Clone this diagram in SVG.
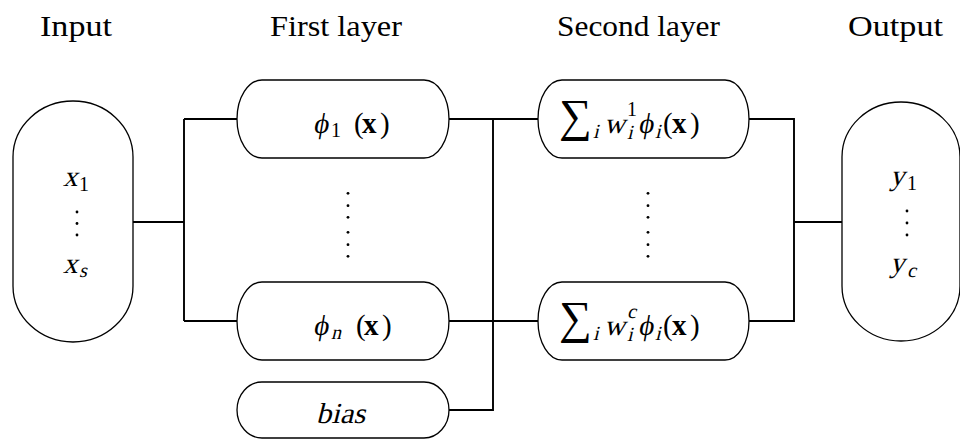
<svg xmlns="http://www.w3.org/2000/svg" width="960" height="440" viewBox="0 0 960 440">
<style>
.node{fill:#fff;stroke:#000;stroke-width:1.3}
.wire{fill:none;stroke:#000;stroke-width:1.9}
text{font-family:"Liberation Serif","DejaVu Serif",serif;fill:#000;font-style:normal}
.hd{font-size:29px}
.it{font-size:29px}
.up{font-size:29px}
.bf{font-size:29px;font-weight:bold}
.s{font-size:20px}
.sum{font-size:46px}
.dot{fill:#000}
</style>
<rect width="960" height="440" fill="#fff"/>
<g id="headers">
<text class="hd" x="40" y="36" textLength="72" lengthAdjust="spacingAndGlyphs">Input</text>
<text class="hd" x="270" y="36" textLength="132" lengthAdjust="spacingAndGlyphs">First layer</text>
<text class="hd" x="557" y="36" textLength="163" lengthAdjust="spacingAndGlyphs">Second layer</text>
<text class="hd" x="848" y="36" textLength="95" lengthAdjust="spacingAndGlyphs">Output</text>
</g>
<g id="connectors">
<path class="wire" d="M133 222H184M184 119V321M184 119H237M184 321H237"/>
<path class="wire" d="M449 119H538M449 321H538M449 410H493V119"/>
<path class="wire" d="M749 119H794V321H749M794 222H842"/>
</g>
<g id="input">
<rect class="node" x="13" y="101" width="120" height="241" rx="60" ry="56"/>
<text class="it" transform="translate(63 186) skewX(-14)">x</text>
<text class="s" x="79" y="191">1</text>
<circle class="dot" cx="77" cy="212" r="1.4"/><circle class="dot" cx="77" cy="223.5" r="1.4"/><circle class="dot" cx="77" cy="235" r="1.4"/>
<text class="it" transform="translate(63 273) skewX(-14)">x</text>
<text class="s" transform="translate(79 277) skewX(-14)">s</text>
</g>
<g id="phi1">
<rect class="node" x="237" y="80" width="212" height="78" rx="25" ry="39"/>
<text class="it" transform="translate(313 133) skewX(-10)">ϕ</text>
<text class="s" x="331" y="137">1</text>
<text class="up" x="354" y="133">(</text>
<text class="bf" x="362" y="133">x</text>
<text class="up" x="380" y="133">)</text>
</g>
<g id="dots1">
<circle class="dot" cx="348" cy="193.3" r="1.4"/><circle class="dot" cx="348" cy="205.7" r="1.4"/><circle class="dot" cx="348" cy="217.3" r="1.4"/>
<circle class="dot" cx="348" cy="232.3" r="1.4"/><circle class="dot" cx="348" cy="244.7" r="1.4"/><circle class="dot" cx="348" cy="256.3" r="1.4"/>
</g>
<g id="phin">
<rect class="node" x="237" y="282" width="212" height="78" rx="25" ry="39"/>
<text class="it" transform="translate(313 335) skewX(-10)">ϕ</text>
<text class="s" transform="translate(331 339) skewX(-14)">n</text>
<text class="up" x="356" y="335">(</text>
<text class="bf" x="364" y="335">x</text>
<text class="up" x="382" y="335">)</text>
</g>
<g id="bias">
<rect class="node" x="237" y="382" width="212" height="56" rx="25" ry="28"/>
<text class="it" transform="translate(316 423) skewX(-14)" textLength="49" lengthAdjust="spacingAndGlyphs">bias</text>
</g>
<g id="sum1">
<rect class="node" x="538" y="80" width="211" height="78" rx="24" ry="39"/>
<text class="sum" x="559" y="131">∑</text>
<text class="s" transform="translate(593 138) skewX(-14)">i</text>
<text class="it" transform="translate(604 133) skewX(-14)">w</text>
<text class="s" x="627" y="116">1</text>
<text class="s" transform="translate(627 139) skewX(-14)">i</text>
<text class="it" transform="translate(638 133) skewX(-10)">ϕ</text>
<text class="s" transform="translate(655 138) skewX(-14)">i</text>
<text class="up" x="663" y="133">(</text>
<text class="bf" x="672" y="133">x</text>
<text class="up" x="690" y="133">)</text>
</g>
<g id="dots2">
<circle class="dot" cx="648" cy="193.3" r="1.4"/><circle class="dot" cx="648" cy="205.7" r="1.4"/><circle class="dot" cx="648" cy="217.3" r="1.4"/>
<circle class="dot" cx="648" cy="232.3" r="1.4"/><circle class="dot" cx="648" cy="244.7" r="1.4"/><circle class="dot" cx="648" cy="256.3" r="1.4"/>
</g>
<g id="sumc">
<rect class="node" x="538" y="282" width="211" height="78" rx="24" ry="39"/>
<text class="sum" x="559" y="333">∑</text>
<text class="s" transform="translate(593 340) skewX(-14)">i</text>
<text class="it" transform="translate(604 335) skewX(-14)">w</text>
<text class="s" transform="translate(627 318) skewX(-14)">c</text>
<text class="s" transform="translate(627 341) skewX(-14)">i</text>
<text class="it" transform="translate(638 335) skewX(-10)">ϕ</text>
<text class="s" transform="translate(655 340) skewX(-14)">i</text>
<text class="up" x="663" y="335">(</text>
<text class="bf" x="672" y="335">x</text>
<text class="up" x="690" y="335">)</text>
</g>
<g id="output">
<rect class="node" x="842" y="102" width="118" height="239" rx="59" ry="55"/>
<text class="it" transform="translate(890 185) skewX(-14)">y</text>
<text class="s" x="907" y="190">1</text>
<circle class="dot" cx="907" cy="211" r="1.4"/><circle class="dot" cx="907" cy="223" r="1.4"/><circle class="dot" cx="907" cy="235" r="1.4"/>
<text class="it" transform="translate(890 272) skewX(-14)">y</text>
<text class="s" transform="translate(907 277) skewX(-14)">c</text>
</g>
</svg>
